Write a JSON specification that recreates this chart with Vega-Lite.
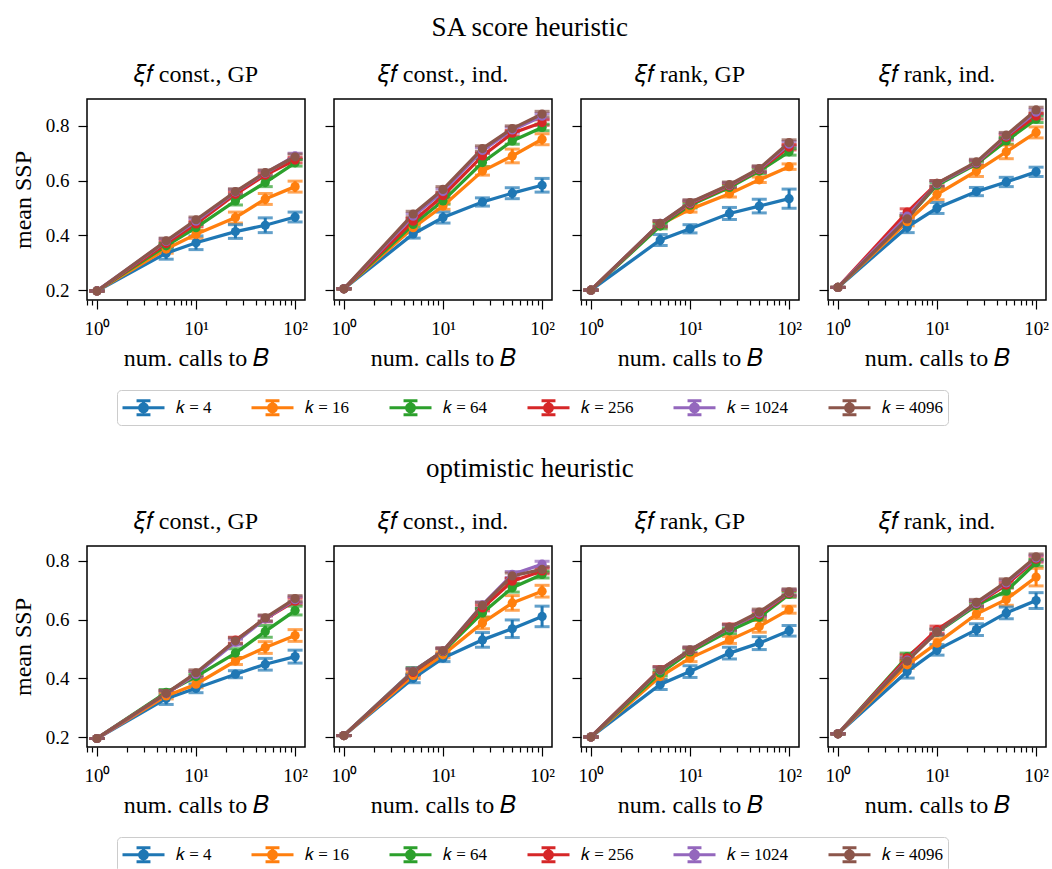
{
  "$schema": "https://vega.github.io/schema/vega-lite/v6.json",
  "padding": {"left": 10, "top": 14, "right": 0, "bottom": 0},
  "config": {
    "font": "Liberation Serif",
    "view": {"stroke": "black", "strokeWidth": 1.5},
    "axis": {"domain": false, "grid": false, "tickColor": "black", "tickWidth": 1.2, "labelColor": "black", "titleColor": "black", "labelFont": "Liberation Serif", "titleFont": "Liberation Serif", "labelFontSize": 19, "titleFontSize": 24, "titleFontWeight": "normal"},
    "legend": {"labelFont": "Liberation Serif"},
    "title": {"font": "Liberation Serif", "fontSize": 24, "fontWeight": "normal", "color": "black"}
  },
  "datasets": {
    "sa": [
      {"p":"cg","k":4,"x":1,"m":0.197,"e":0},{"p":"cg","k":4,"x":5,"m":0.335,"e":0.022},{"p":"cg","k":4,"x":10,"m":0.373,"e":0.025},{"p":"cg","k":4,"x":25,"m":0.414,"e":0.025},{"p":"cg","k":4,"x":50,"m":0.437,"e":0.027},{"p":"cg","k":4,"x":100,"m":0.467,"e":0.018},
      {"p":"cg","k":16,"x":1,"m":0.197,"e":0},{"p":"cg","k":16,"x":5,"m":0.35,"e":0.015},{"p":"cg","k":16,"x":10,"m":0.404,"e":0.015},{"p":"cg","k":16,"x":25,"m":0.465,"e":0.02},{"p":"cg","k":16,"x":50,"m":0.533,"e":0.02},{"p":"cg","k":16,"x":100,"m":0.578,"e":0.02},
      {"p":"cg","k":64,"x":1,"m":0.197,"e":0},{"p":"cg","k":64,"x":5,"m":0.362,"e":0.01},{"p":"cg","k":64,"x":10,"m":0.428,"e":0.012},{"p":"cg","k":64,"x":25,"m":0.526,"e":0.015},{"p":"cg","k":64,"x":50,"m":0.593,"e":0.015},{"p":"cg","k":64,"x":100,"m":0.665,"e":0.012},
      {"p":"cg","k":256,"x":1,"m":0.197,"e":0},{"p":"cg","k":256,"x":5,"m":0.37,"e":0.01},{"p":"cg","k":256,"x":10,"m":0.442,"e":0.01},{"p":"cg","k":256,"x":25,"m":0.55,"e":0.01},{"p":"cg","k":256,"x":50,"m":0.62,"e":0.01},{"p":"cg","k":256,"x":100,"m":0.675,"e":0.01},
      {"p":"cg","k":1024,"x":1,"m":0.197,"e":0},{"p":"cg","k":1024,"x":5,"m":0.378,"e":0.01},{"p":"cg","k":1024,"x":10,"m":0.452,"e":0.01},{"p":"cg","k":1024,"x":25,"m":0.558,"e":0.01},{"p":"cg","k":1024,"x":50,"m":0.627,"e":0.01},{"p":"cg","k":1024,"x":100,"m":0.69,"e":0.01},
      {"p":"cg","k":4096,"x":1,"m":0.197,"e":0},{"p":"cg","k":4096,"x":5,"m":0.38,"e":0.01},{"p":"cg","k":4096,"x":10,"m":0.457,"e":0.01},{"p":"cg","k":4096,"x":25,"m":0.56,"e":0.01},{"p":"cg","k":4096,"x":50,"m":0.629,"e":0.01},{"p":"cg","k":4096,"x":100,"m":0.687,"e":0.01},

      {"p":"ci","k":4,"x":1,"m":0.205,"e":0},{"p":"ci","k":4,"x":5,"m":0.405,"e":0.015},{"p":"ci","k":4,"x":10,"m":0.465,"e":0.02},{"p":"ci","k":4,"x":25,"m":0.522,"e":0.015},{"p":"ci","k":4,"x":50,"m":0.554,"e":0.02},{"p":"ci","k":4,"x":100,"m":0.583,"e":0.025},
      {"p":"ci","k":16,"x":1,"m":0.205,"e":0},{"p":"ci","k":16,"x":5,"m":0.428,"e":0.012},{"p":"ci","k":16,"x":10,"m":0.507,"e":0.012},{"p":"ci","k":16,"x":25,"m":0.635,"e":0.015},{"p":"ci","k":16,"x":50,"m":0.69,"e":0.025},{"p":"ci","k":16,"x":100,"m":0.751,"e":0.02},
      {"p":"ci","k":64,"x":1,"m":0.205,"e":0},{"p":"ci","k":64,"x":5,"m":0.44,"e":0.01},{"p":"ci","k":64,"x":10,"m":0.526,"e":0.012},{"p":"ci","k":64,"x":25,"m":0.666,"e":0.015},{"p":"ci","k":64,"x":50,"m":0.745,"e":0.012},{"p":"ci","k":64,"x":100,"m":0.794,"e":0.012},
      {"p":"ci","k":256,"x":1,"m":0.205,"e":0},{"p":"ci","k":256,"x":5,"m":0.452,"e":0.01},{"p":"ci","k":256,"x":10,"m":0.545,"e":0.01},{"p":"ci","k":256,"x":25,"m":0.69,"e":0.01},{"p":"ci","k":256,"x":50,"m":0.773,"e":0.01},{"p":"ci","k":256,"x":100,"m":0.812,"e":0.01},
      {"p":"ci","k":1024,"x":1,"m":0.205,"e":0},{"p":"ci","k":1024,"x":5,"m":0.47,"e":0.01},{"p":"ci","k":1024,"x":10,"m":0.56,"e":0.01},{"p":"ci","k":1024,"x":25,"m":0.71,"e":0.01},{"p":"ci","k":1024,"x":50,"m":0.785,"e":0.01},{"p":"ci","k":1024,"x":100,"m":0.835,"e":0.01},
      {"p":"ci","k":4096,"x":1,"m":0.205,"e":0},{"p":"ci","k":4096,"x":5,"m":0.478,"e":0.01},{"p":"ci","k":4096,"x":10,"m":0.568,"e":0.01},{"p":"ci","k":4096,"x":25,"m":0.717,"e":0.01},{"p":"ci","k":4096,"x":50,"m":0.79,"e":0.01},{"p":"ci","k":4096,"x":100,"m":0.843,"e":0.01},

      {"p":"rg","k":4,"x":1,"m":0.2,"e":0},{"p":"rg","k":4,"x":5,"m":0.383,"e":0.02},{"p":"rg","k":4,"x":10,"m":0.424,"e":0.015},{"p":"rg","k":4,"x":25,"m":0.48,"e":0.022},{"p":"rg","k":4,"x":50,"m":0.507,"e":0.025},{"p":"rg","k":4,"x":100,"m":0.534,"e":0.035},
      {"p":"rg","k":16,"x":1,"m":0.2,"e":0},{"p":"rg","k":16,"x":5,"m":0.44,"e":0.01},{"p":"rg","k":16,"x":10,"m":0.495,"e":0.01},{"p":"rg","k":16,"x":25,"m":0.552,"e":0.012},{"p":"rg","k":16,"x":50,"m":0.603,"e":0.01},{"p":"rg","k":16,"x":100,"m":0.651,"e":0.01},
      {"p":"rg","k":64,"x":1,"m":0.2,"e":0},{"p":"rg","k":64,"x":5,"m":0.434,"e":0.01},{"p":"rg","k":64,"x":10,"m":0.51,"e":0.01},{"p":"rg","k":64,"x":25,"m":0.575,"e":0.01},{"p":"rg","k":64,"x":50,"m":0.635,"e":0.01},{"p":"rg","k":64,"x":100,"m":0.705,"e":0.012},
      {"p":"rg","k":256,"x":1,"m":0.2,"e":0},{"p":"rg","k":256,"x":5,"m":0.442,"e":0.01},{"p":"rg","k":256,"x":10,"m":0.515,"e":0.01},{"p":"rg","k":256,"x":25,"m":0.58,"e":0.01},{"p":"rg","k":256,"x":50,"m":0.64,"e":0.01},{"p":"rg","k":256,"x":100,"m":0.722,"e":0.01},
      {"p":"rg","k":1024,"x":1,"m":0.2,"e":0},{"p":"rg","k":1024,"x":5,"m":0.444,"e":0.01},{"p":"rg","k":1024,"x":10,"m":0.518,"e":0.01},{"p":"rg","k":1024,"x":25,"m":0.583,"e":0.01},{"p":"rg","k":1024,"x":50,"m":0.642,"e":0.01},{"p":"rg","k":1024,"x":100,"m":0.733,"e":0.01},
      {"p":"rg","k":4096,"x":1,"m":0.2,"e":0},{"p":"rg","k":4096,"x":5,"m":0.444,"e":0.01},{"p":"rg","k":4096,"x":10,"m":0.52,"e":0.01},{"p":"rg","k":4096,"x":25,"m":0.585,"e":0.01},{"p":"rg","k":4096,"x":50,"m":0.644,"e":0.01},{"p":"rg","k":4096,"x":100,"m":0.739,"e":0.01},

      {"p":"ri","k":4,"x":1,"m":0.21,"e":0},{"p":"ri","k":4,"x":5,"m":0.43,"e":0.02},{"p":"ri","k":4,"x":10,"m":0.5,"e":0.02},{"p":"ri","k":4,"x":25,"m":0.56,"e":0.015},{"p":"ri","k":4,"x":50,"m":0.595,"e":0.017},{"p":"ri","k":4,"x":100,"m":0.632,"e":0.017},
      {"p":"ri","k":16,"x":1,"m":0.21,"e":0},{"p":"ri","k":16,"x":5,"m":0.45,"e":0.015},{"p":"ri","k":16,"x":10,"m":0.55,"e":0.02},{"p":"ri","k":16,"x":25,"m":0.635,"e":0.02},{"p":"ri","k":16,"x":50,"m":0.705,"e":0.025},{"p":"ri","k":16,"x":100,"m":0.776,"e":0.02},
      {"p":"ri","k":64,"x":1,"m":0.21,"e":0},{"p":"ri","k":64,"x":5,"m":0.463,"e":0.01},{"p":"ri","k":64,"x":10,"m":0.583,"e":0.01},{"p":"ri","k":64,"x":25,"m":0.66,"e":0.01},{"p":"ri","k":64,"x":50,"m":0.745,"e":0.012},{"p":"ri","k":64,"x":100,"m":0.824,"e":0.012},
      {"p":"ri","k":256,"x":1,"m":0.21,"e":0},{"p":"ri","k":256,"x":5,"m":0.485,"e":0.012},{"p":"ri","k":256,"x":10,"m":0.59,"e":0.01},{"p":"ri","k":256,"x":25,"m":0.663,"e":0.01},{"p":"ri","k":256,"x":50,"m":0.758,"e":0.01},{"p":"ri","k":256,"x":100,"m":0.835,"e":0.01},
      {"p":"ri","k":1024,"x":1,"m":0.21,"e":0},{"p":"ri","k":1024,"x":5,"m":0.47,"e":0.01},{"p":"ri","k":1024,"x":10,"m":0.588,"e":0.01},{"p":"ri","k":1024,"x":25,"m":0.665,"e":0.01},{"p":"ri","k":1024,"x":50,"m":0.763,"e":0.01},{"p":"ri","k":1024,"x":100,"m":0.85,"e":0.01},
      {"p":"ri","k":4096,"x":1,"m":0.21,"e":0},{"p":"ri","k":4096,"x":5,"m":0.46,"e":0.01},{"p":"ri","k":4096,"x":10,"m":0.59,"e":0.01},{"p":"ri","k":4096,"x":25,"m":0.668,"e":0.01},{"p":"ri","k":4096,"x":50,"m":0.766,"e":0.01},{"p":"ri","k":4096,"x":100,"m":0.858,"e":0.01}
    ],
    "opt": [
      {"p":"cg","k":4,"x":1,"m":0.195,"e":0},{"p":"cg","k":4,"x":5,"m":0.331,"e":0.02},{"p":"cg","k":4,"x":10,"m":0.366,"e":0.015},{"p":"cg","k":4,"x":25,"m":0.414,"e":0.012},{"p":"cg","k":4,"x":50,"m":0.448,"e":0.02},{"p":"cg","k":4,"x":100,"m":0.474,"e":0.022},
      {"p":"cg","k":16,"x":1,"m":0.195,"e":0},{"p":"cg","k":16,"x":5,"m":0.34,"e":0.01},{"p":"cg","k":16,"x":10,"m":0.38,"e":0.012},{"p":"cg","k":16,"x":25,"m":0.459,"e":0.012},{"p":"cg","k":16,"x":50,"m":0.505,"e":0.02},{"p":"cg","k":16,"x":100,"m":0.546,"e":0.02},
      {"p":"cg","k":64,"x":1,"m":0.195,"e":0},{"p":"cg","k":64,"x":5,"m":0.352,"e":0.01},{"p":"cg","k":64,"x":10,"m":0.406,"e":0.01},{"p":"cg","k":64,"x":25,"m":0.486,"e":0.015},{"p":"cg","k":64,"x":50,"m":0.56,"e":0.02},{"p":"cg","k":64,"x":100,"m":0.631,"e":0.015},
      {"p":"cg","k":256,"x":1,"m":0.195,"e":0},{"p":"cg","k":256,"x":5,"m":0.348,"e":0.01},{"p":"cg","k":256,"x":10,"m":0.414,"e":0.01},{"p":"cg","k":256,"x":25,"m":0.53,"e":0.01},{"p":"cg","k":256,"x":50,"m":0.603,"e":0.01},{"p":"cg","k":256,"x":100,"m":0.663,"e":0.01},
      {"p":"cg","k":1024,"x":1,"m":0.195,"e":0},{"p":"cg","k":1024,"x":5,"m":0.348,"e":0.01},{"p":"cg","k":1024,"x":10,"m":0.414,"e":0.01},{"p":"cg","k":1024,"x":25,"m":0.523,"e":0.01},{"p":"cg","k":1024,"x":50,"m":0.603,"e":0.01},{"p":"cg","k":1024,"x":100,"m":0.668,"e":0.01},
      {"p":"cg","k":4096,"x":1,"m":0.195,"e":0},{"p":"cg","k":4096,"x":5,"m":0.349,"e":0.01},{"p":"cg","k":4096,"x":10,"m":0.419,"e":0.01},{"p":"cg","k":4096,"x":25,"m":0.528,"e":0.01},{"p":"cg","k":4096,"x":50,"m":0.606,"e":0.01},{"p":"cg","k":4096,"x":100,"m":0.672,"e":0.01},

      {"p":"ci","k":4,"x":1,"m":0.205,"e":0},{"p":"ci","k":4,"x":5,"m":0.4,"e":0.015},{"p":"ci","k":4,"x":10,"m":0.469,"e":0.012},{"p":"ci","k":4,"x":25,"m":0.531,"e":0.025},{"p":"ci","k":4,"x":50,"m":0.569,"e":0.03},{"p":"ci","k":4,"x":100,"m":0.611,"e":0.035},
      {"p":"ci","k":16,"x":1,"m":0.205,"e":0},{"p":"ci","k":16,"x":5,"m":0.41,"e":0.01},{"p":"ci","k":16,"x":10,"m":0.48,"e":0.01},{"p":"ci","k":16,"x":25,"m":0.589,"e":0.02},{"p":"ci","k":16,"x":50,"m":0.657,"e":0.025},{"p":"ci","k":16,"x":100,"m":0.697,"e":0.02},
      {"p":"ci","k":64,"x":1,"m":0.205,"e":0},{"p":"ci","k":64,"x":5,"m":0.425,"e":0.012},{"p":"ci","k":64,"x":10,"m":0.491,"e":0.01},{"p":"ci","k":64,"x":25,"m":0.623,"e":0.015},{"p":"ci","k":64,"x":50,"m":0.709,"e":0.015},{"p":"ci","k":64,"x":100,"m":0.754,"e":0.012},
      {"p":"ci","k":256,"x":1,"m":0.205,"e":0},{"p":"ci","k":256,"x":5,"m":0.42,"e":0.01},{"p":"ci","k":256,"x":10,"m":0.492,"e":0.01},{"p":"ci","k":256,"x":25,"m":0.64,"e":0.01},{"p":"ci","k":256,"x":50,"m":0.731,"e":0.01},{"p":"ci","k":256,"x":100,"m":0.766,"e":0.01},
      {"p":"ci","k":1024,"x":1,"m":0.205,"e":0},{"p":"ci","k":1024,"x":5,"m":0.425,"e":0.01},{"p":"ci","k":1024,"x":10,"m":0.493,"e":0.01},{"p":"ci","k":1024,"x":25,"m":0.65,"e":0.01},{"p":"ci","k":1024,"x":50,"m":0.754,"e":0.01},{"p":"ci","k":1024,"x":100,"m":0.789,"e":0.01},
      {"p":"ci","k":4096,"x":1,"m":0.205,"e":0},{"p":"ci","k":4096,"x":5,"m":0.423,"e":0.01},{"p":"ci","k":4096,"x":10,"m":0.494,"e":0.01},{"p":"ci","k":4096,"x":25,"m":0.649,"e":0.01},{"p":"ci","k":4096,"x":50,"m":0.749,"e":0.01},{"p":"ci","k":4096,"x":100,"m":0.771,"e":0.01},

      {"p":"rg","k":4,"x":1,"m":0.2,"e":0},{"p":"rg","k":4,"x":5,"m":0.379,"e":0.017},{"p":"rg","k":4,"x":10,"m":0.423,"e":0.02},{"p":"rg","k":4,"x":25,"m":0.486,"e":0.02},{"p":"rg","k":4,"x":50,"m":0.52,"e":0.022},{"p":"rg","k":4,"x":100,"m":0.562,"e":0.018},
      {"p":"rg","k":16,"x":1,"m":0.2,"e":0},{"p":"rg","k":16,"x":5,"m":0.406,"e":0.012},{"p":"rg","k":16,"x":10,"m":0.469,"e":0.012},{"p":"rg","k":16,"x":25,"m":0.531,"e":0.012},{"p":"rg","k":16,"x":50,"m":0.577,"e":0.02},{"p":"rg","k":16,"x":100,"m":0.634,"e":0.012},
      {"p":"rg","k":64,"x":1,"m":0.2,"e":0},{"p":"rg","k":64,"x":5,"m":0.418,"e":0.01},{"p":"rg","k":64,"x":10,"m":0.49,"e":0.01},{"p":"rg","k":64,"x":25,"m":0.562,"e":0.01},{"p":"rg","k":64,"x":50,"m":0.608,"e":0.01},{"p":"rg","k":64,"x":100,"m":0.686,"e":0.01},
      {"p":"rg","k":256,"x":1,"m":0.2,"e":0},{"p":"rg","k":256,"x":5,"m":0.43,"e":0.01},{"p":"rg","k":256,"x":10,"m":0.494,"e":0.01},{"p":"rg","k":256,"x":25,"m":0.575,"e":0.01},{"p":"rg","k":256,"x":50,"m":0.618,"e":0.01},{"p":"rg","k":256,"x":100,"m":0.69,"e":0.01},
      {"p":"rg","k":1024,"x":1,"m":0.2,"e":0},{"p":"rg","k":1024,"x":5,"m":0.428,"e":0.01},{"p":"rg","k":1024,"x":10,"m":0.496,"e":0.01},{"p":"rg","k":1024,"x":25,"m":0.572,"e":0.01},{"p":"rg","k":1024,"x":50,"m":0.622,"e":0.01},{"p":"rg","k":1024,"x":100,"m":0.693,"e":0.01},
      {"p":"rg","k":4096,"x":1,"m":0.2,"e":0},{"p":"rg","k":4096,"x":5,"m":0.429,"e":0.01},{"p":"rg","k":4096,"x":10,"m":0.497,"e":0.01},{"p":"rg","k":4096,"x":25,"m":0.574,"e":0.01},{"p":"rg","k":4096,"x":50,"m":0.626,"e":0.01},{"p":"rg","k":4096,"x":100,"m":0.695,"e":0.01},

      {"p":"ri","k":4,"x":1,"m":0.211,"e":0},{"p":"ri","k":4,"x":5,"m":0.423,"e":0.022},{"p":"ri","k":4,"x":10,"m":0.497,"e":0.018},{"p":"ri","k":4,"x":25,"m":0.566,"e":0.02},{"p":"ri","k":4,"x":50,"m":0.623,"e":0.02},{"p":"ri","k":4,"x":100,"m":0.665,"e":0.027},
      {"p":"ri","k":16,"x":1,"m":0.211,"e":0},{"p":"ri","k":16,"x":5,"m":0.446,"e":0.012},{"p":"ri","k":16,"x":10,"m":0.52,"e":0.015},{"p":"ri","k":16,"x":25,"m":0.619,"e":0.015},{"p":"ri","k":16,"x":50,"m":0.669,"e":0.02},{"p":"ri","k":16,"x":100,"m":0.745,"e":0.03},
      {"p":"ri","k":64,"x":1,"m":0.211,"e":0},{"p":"ri","k":64,"x":5,"m":0.474,"e":0.012},{"p":"ri","k":64,"x":10,"m":0.557,"e":0.01},{"p":"ri","k":64,"x":25,"m":0.649,"e":0.01},{"p":"ri","k":64,"x":50,"m":0.697,"e":0.012},{"p":"ri","k":64,"x":100,"m":0.794,"e":0.012},
      {"p":"ri","k":256,"x":1,"m":0.211,"e":0},{"p":"ri","k":256,"x":5,"m":0.47,"e":0.01},{"p":"ri","k":256,"x":10,"m":0.566,"e":0.012},{"p":"ri","k":256,"x":25,"m":0.653,"e":0.01},{"p":"ri","k":256,"x":50,"m":0.718,"e":0.01},{"p":"ri","k":256,"x":100,"m":0.806,"e":0.01},
      {"p":"ri","k":1024,"x":1,"m":0.211,"e":0},{"p":"ri","k":1024,"x":5,"m":0.462,"e":0.01},{"p":"ri","k":1024,"x":10,"m":0.558,"e":0.01},{"p":"ri","k":1024,"x":25,"m":0.655,"e":0.01},{"p":"ri","k":1024,"x":50,"m":0.725,"e":0.01},{"p":"ri","k":1024,"x":100,"m":0.81,"e":0.01},
      {"p":"ri","k":4096,"x":1,"m":0.211,"e":0},{"p":"ri","k":4096,"x":5,"m":0.459,"e":0.01},{"p":"ri","k":4096,"x":10,"m":0.558,"e":0.01},{"p":"ri","k":4096,"x":25,"m":0.659,"e":0.01},{"p":"ri","k":4096,"x":50,"m":0.729,"e":0.01},{"p":"ri","k":4096,"x":100,"m":0.814,"e":0.01}
    ]
  },
  "resolve": {"legend": {"color": "independent"}},
  "spacing": 29,
  "vconcat": [
    {
      "title": {"text": "SA score heuristic", "fontSize": 27, "anchor": "middle", "offset": 20},
      "bounds": "flush",
      "spacing": 29,
      "hconcat": [
        {"width": 218, "height": 201, "title": {"text": "𝜉𝑓 const., GP", "offset": 12}, "data": {"name": "sa"}, "transform": [{"filter": "datum.p=='cg'"}],
         "encoding": {
           "x": {"field": "x", "type": "quantitative", "scale": {"type": "log", "domain": [0.794, 125.9], "nice": false}, "axis": {"title": "num. calls to 𝐵", "values": [0.8,0.9,1,2,3,4,5,6,7,8,9,10,20,30,40,50,60,70,80,90,100], "labelExpr": "datum.value==1?'10⁰':datum.value==10?'10¹':datum.value==100?'10²':''", "tickSize": {"condition": {"test": "datum.value==1||datum.value==10||datum.value==100", "value": 9}, "value": 5}, "labelOverlap": false, "labelFlush": false, "labelPadding": 10, "titlePadding": 8}},
           "y": {"field": "m", "type": "quantitative", "scale": {"domain": [0.164, 0.898], "nice": false, "zero": false}, "axis": {"title": "mean SSP", "values": [0.2,0.4,0.6,0.8], "format": ".1f", "tickSize": 9, "labelPadding": 9, "titlePadding": 10}},
           "color": {"field": "k", "type": "ordinal", "scale": {"domain": [4,16,64,256,1024,4096], "range": ["#1f77b4","#ff7f0e","#2ca02c","#d62728","#9467bd","#8c564b"]},
             "legend": {"orient": "none", "legendX": 30, "legendY": 291, "direction": "horizontal", "title": null, "symbolType": "M-1.75,0H1.75M0,-0.58V0.58M-0.58,-0.58H0.58M-0.58,0.58H0.58M0.33,0A0.33,0.33,0,1,1,-0.33,0A0.33,0.33,0,1,1,0.33,0Z", "symbolSize": 576, "symbolOffset": 9, "symbolStrokeWidth": 3, "labelExpr": "'𝑘 = ' + datum.label", "labelFontSize": 17, "labelOffset": 19, "columnPadding": 33, "padding": 4, "strokeColor": "#cccccc", "cornerRadius": 4, "fillColor": "white",
               "encode": {"symbols": {"update": {"fill": {"scale": "color", "field": "value"}, "stroke": {"scale": "color", "field": "value"}, "strokeWidth": {"value": 3}, "opacity": {"value": 1}}}}}}
         },
         "layer": [
           {"mark": {"type": "errorbar", "ticks": true, "size": 15, "thickness": 3}, "encoding": {"yError": {"field": "e"}}},
           {"mark": {"type": "line", "strokeWidth": 3.3}},
           {"mark": {"type": "point", "filled": true, "size": 85, "opacity": 1}}
         ]},
        {"width": 218, "height": 201, "title": {"text": "𝜉𝑓 const., ind.", "offset": 12}, "data": {"name": "sa"}, "transform": [{"filter": "datum.p=='ci'"}],
         "encoding": {
           "x": {"field": "x", "type": "quantitative", "scale": {"type": "log", "domain": [0.794, 125.9], "nice": false}, "axis": {"title": "num. calls to 𝐵", "values": [0.8,0.9,1,2,3,4,5,6,7,8,9,10,20,30,40,50,60,70,80,90,100], "labelExpr": "datum.value==1?'10⁰':datum.value==10?'10¹':datum.value==100?'10²':''", "tickSize": {"condition": {"test": "datum.value==1||datum.value==10||datum.value==100", "value": 9}, "value": 5}, "labelOverlap": false, "labelFlush": false, "labelPadding": 10, "titlePadding": 8}},
           "y": {"field": "m", "type": "quantitative", "scale": {"domain": [0.164, 0.898], "nice": false, "zero": false}, "axis": {"title": null, "values": [0.2,0.4,0.6,0.8], "labels": false, "tickSize": 9}},
           "color": {"field": "k", "type": "ordinal", "scale": {"domain": [4,16,64,256,1024,4096], "range": ["#1f77b4","#ff7f0e","#2ca02c","#d62728","#9467bd","#8c564b"]}}
         },
         "layer": [
           {"mark": {"type": "errorbar", "ticks": true, "size": 15, "thickness": 3}, "encoding": {"yError": {"field": "e"}}},
           {"mark": {"type": "line", "strokeWidth": 3.3}},
           {"mark": {"type": "point", "filled": true, "size": 85, "opacity": 1}}
         ]},
        {"width": 218, "height": 201, "title": {"text": "𝜉𝑓 rank, GP", "offset": 12}, "data": {"name": "sa"}, "transform": [{"filter": "datum.p=='rg'"}],
         "encoding": {
           "x": {"field": "x", "type": "quantitative", "scale": {"type": "log", "domain": [0.794, 125.9], "nice": false}, "axis": {"title": "num. calls to 𝐵", "values": [0.8,0.9,1,2,3,4,5,6,7,8,9,10,20,30,40,50,60,70,80,90,100], "labelExpr": "datum.value==1?'10⁰':datum.value==10?'10¹':datum.value==100?'10²':''", "tickSize": {"condition": {"test": "datum.value==1||datum.value==10||datum.value==100", "value": 9}, "value": 5}, "labelOverlap": false, "labelFlush": false, "labelPadding": 10, "titlePadding": 8}},
           "y": {"field": "m", "type": "quantitative", "scale": {"domain": [0.164, 0.898], "nice": false, "zero": false}, "axis": {"title": null, "values": [0.2,0.4,0.6,0.8], "labels": false, "tickSize": 9}},
           "color": {"field": "k", "type": "ordinal", "scale": {"domain": [4,16,64,256,1024,4096], "range": ["#1f77b4","#ff7f0e","#2ca02c","#d62728","#9467bd","#8c564b"]}}
         },
         "layer": [
           {"mark": {"type": "errorbar", "ticks": true, "size": 15, "thickness": 3}, "encoding": {"yError": {"field": "e"}}},
           {"mark": {"type": "line", "strokeWidth": 3.3}},
           {"mark": {"type": "point", "filled": true, "size": 85, "opacity": 1}}
         ]},
        {"width": 218, "height": 201, "title": {"text": "𝜉𝑓 rank, ind.", "offset": 12}, "data": {"name": "sa"}, "transform": [{"filter": "datum.p=='ri'"}],
         "encoding": {
           "x": {"field": "x", "type": "quantitative", "scale": {"type": "log", "domain": [0.794, 125.9], "nice": false}, "axis": {"title": "num. calls to 𝐵", "values": [0.8,0.9,1,2,3,4,5,6,7,8,9,10,20,30,40,50,60,70,80,90,100], "labelExpr": "datum.value==1?'10⁰':datum.value==10?'10¹':datum.value==100?'10²':''", "tickSize": {"condition": {"test": "datum.value==1||datum.value==10||datum.value==100", "value": 9}, "value": 5}, "labelOverlap": false, "labelFlush": false, "labelPadding": 10, "titlePadding": 8}},
           "y": {"field": "m", "type": "quantitative", "scale": {"domain": [0.164, 0.898], "nice": false, "zero": false}, "axis": {"title": null, "values": [0.2,0.4,0.6,0.8], "labels": false, "tickSize": 9}},
           "color": {"field": "k", "type": "ordinal", "scale": {"domain": [4,16,64,256,1024,4096], "range": ["#1f77b4","#ff7f0e","#2ca02c","#d62728","#9467bd","#8c564b"]}}
         },
         "layer": [
           {"mark": {"type": "errorbar", "ticks": true, "size": 15, "thickness": 3}, "encoding": {"yError": {"field": "e"}}},
           {"mark": {"type": "line", "strokeWidth": 3.3}},
           {"mark": {"type": "point", "filled": true, "size": 85, "opacity": 1}}
         ]}
      ]
    },
    {
      "title": {"text": "optimistic heuristic", "fontSize": 27, "anchor": "middle", "offset": 26},
      "bounds": "flush",
      "spacing": 29,
      "hconcat": [
        {"width": 218, "height": 201, "title": {"text": "𝜉𝑓 const., GP", "offset": 12}, "data": {"name": "opt"}, "transform": [{"filter": "datum.p=='cg'"}],
         "encoding": {
           "x": {"field": "x", "type": "quantitative", "scale": {"type": "log", "domain": [0.794, 125.9], "nice": false}, "axis": {"title": "num. calls to 𝐵", "values": [0.8,0.9,1,2,3,4,5,6,7,8,9,10,20,30,40,50,60,70,80,90,100], "labelExpr": "datum.value==1?'10⁰':datum.value==10?'10¹':datum.value==100?'10²':''", "tickSize": {"condition": {"test": "datum.value==1||datum.value==10||datum.value==100", "value": 9}, "value": 5}, "labelOverlap": false, "labelFlush": false, "labelPadding": 10, "titlePadding": 8}},
           "y": {"field": "m", "type": "quantitative", "scale": {"domain": [0.166, 0.851], "nice": false, "zero": false}, "axis": {"title": "mean SSP", "values": [0.2,0.4,0.6,0.8], "format": ".1f", "tickSize": 9, "labelPadding": 9, "titlePadding": 10}},
           "color": {"field": "k", "type": "ordinal", "scale": {"domain": [4,16,64,256,1024,4096], "range": ["#1f77b4","#ff7f0e","#2ca02c","#d62728","#9467bd","#8c564b"]},
             "legend": {"orient": "none", "legendX": 30, "legendY": 291, "direction": "horizontal", "title": null, "symbolType": "M-1.75,0H1.75M0,-0.58V0.58M-0.58,-0.58H0.58M-0.58,0.58H0.58M0.33,0A0.33,0.33,0,1,1,-0.33,0A0.33,0.33,0,1,1,0.33,0Z", "symbolSize": 576, "symbolOffset": 9, "symbolStrokeWidth": 3, "labelExpr": "'𝑘 = ' + datum.label", "labelFontSize": 17, "labelOffset": 19, "columnPadding": 33, "padding": 4, "strokeColor": "#cccccc", "cornerRadius": 4, "fillColor": "white",
               "encode": {"symbols": {"update": {"fill": {"scale": "color", "field": "value"}, "stroke": {"scale": "color", "field": "value"}, "strokeWidth": {"value": 3}, "opacity": {"value": 1}}}}}}
         },
         "layer": [
           {"mark": {"type": "errorbar", "ticks": true, "size": 15, "thickness": 3}, "encoding": {"yError": {"field": "e"}}},
           {"mark": {"type": "line", "strokeWidth": 3.3}},
           {"mark": {"type": "point", "filled": true, "size": 85, "opacity": 1}}
         ]},
        {"width": 218, "height": 201, "title": {"text": "𝜉𝑓 const., ind.", "offset": 12}, "data": {"name": "opt"}, "transform": [{"filter": "datum.p=='ci'"}],
         "encoding": {
           "x": {"field": "x", "type": "quantitative", "scale": {"type": "log", "domain": [0.794, 125.9], "nice": false}, "axis": {"title": "num. calls to 𝐵", "values": [0.8,0.9,1,2,3,4,5,6,7,8,9,10,20,30,40,50,60,70,80,90,100], "labelExpr": "datum.value==1?'10⁰':datum.value==10?'10¹':datum.value==100?'10²':''", "tickSize": {"condition": {"test": "datum.value==1||datum.value==10||datum.value==100", "value": 9}, "value": 5}, "labelOverlap": false, "labelFlush": false, "labelPadding": 10, "titlePadding": 8}},
           "y": {"field": "m", "type": "quantitative", "scale": {"domain": [0.166, 0.851], "nice": false, "zero": false}, "axis": {"title": null, "values": [0.2,0.4,0.6,0.8], "labels": false, "tickSize": 9}},
           "color": {"field": "k", "type": "ordinal", "scale": {"domain": [4,16,64,256,1024,4096], "range": ["#1f77b4","#ff7f0e","#2ca02c","#d62728","#9467bd","#8c564b"]}}
         },
         "layer": [
           {"mark": {"type": "errorbar", "ticks": true, "size": 15, "thickness": 3}, "encoding": {"yError": {"field": "e"}}},
           {"mark": {"type": "line", "strokeWidth": 3.3}},
           {"mark": {"type": "point", "filled": true, "size": 85, "opacity": 1}}
         ]},
        {"width": 218, "height": 201, "title": {"text": "𝜉𝑓 rank, GP", "offset": 12}, "data": {"name": "opt"}, "transform": [{"filter": "datum.p=='rg'"}],
         "encoding": {
           "x": {"field": "x", "type": "quantitative", "scale": {"type": "log", "domain": [0.794, 125.9], "nice": false}, "axis": {"title": "num. calls to 𝐵", "values": [0.8,0.9,1,2,3,4,5,6,7,8,9,10,20,30,40,50,60,70,80,90,100], "labelExpr": "datum.value==1?'10⁰':datum.value==10?'10¹':datum.value==100?'10²':''", "tickSize": {"condition": {"test": "datum.value==1||datum.value==10||datum.value==100", "value": 9}, "value": 5}, "labelOverlap": false, "labelFlush": false, "labelPadding": 10, "titlePadding": 8}},
           "y": {"field": "m", "type": "quantitative", "scale": {"domain": [0.166, 0.851], "nice": false, "zero": false}, "axis": {"title": null, "values": [0.2,0.4,0.6,0.8], "labels": false, "tickSize": 9}},
           "color": {"field": "k", "type": "ordinal", "scale": {"domain": [4,16,64,256,1024,4096], "range": ["#1f77b4","#ff7f0e","#2ca02c","#d62728","#9467bd","#8c564b"]}}
         },
         "layer": [
           {"mark": {"type": "errorbar", "ticks": true, "size": 15, "thickness": 3}, "encoding": {"yError": {"field": "e"}}},
           {"mark": {"type": "line", "strokeWidth": 3.3}},
           {"mark": {"type": "point", "filled": true, "size": 85, "opacity": 1}}
         ]},
        {"width": 218, "height": 201, "title": {"text": "𝜉𝑓 rank, ind.", "offset": 12}, "data": {"name": "opt"}, "transform": [{"filter": "datum.p=='ri'"}],
         "encoding": {
           "x": {"field": "x", "type": "quantitative", "scale": {"type": "log", "domain": [0.794, 125.9], "nice": false}, "axis": {"title": "num. calls to 𝐵", "values": [0.8,0.9,1,2,3,4,5,6,7,8,9,10,20,30,40,50,60,70,80,90,100], "labelExpr": "datum.value==1?'10⁰':datum.value==10?'10¹':datum.value==100?'10²':''", "tickSize": {"condition": {"test": "datum.value==1||datum.value==10||datum.value==100", "value": 9}, "value": 5}, "labelOverlap": false, "labelFlush": false, "labelPadding": 10, "titlePadding": 8}},
           "y": {"field": "m", "type": "quantitative", "scale": {"domain": [0.166, 0.851], "nice": false, "zero": false}, "axis": {"title": null, "values": [0.2,0.4,0.6,0.8], "labels": false, "tickSize": 9}},
           "color": {"field": "k", "type": "ordinal", "scale": {"domain": [4,16,64,256,1024,4096], "range": ["#1f77b4","#ff7f0e","#2ca02c","#d62728","#9467bd","#8c564b"]}}
         },
         "layer": [
           {"mark": {"type": "errorbar", "ticks": true, "size": 15, "thickness": 3}, "encoding": {"yError": {"field": "e"}}},
           {"mark": {"type": "line", "strokeWidth": 3.3}},
           {"mark": {"type": "point", "filled": true, "size": 85, "opacity": 1}}
         ]}
      ]
    }
  ]
}
